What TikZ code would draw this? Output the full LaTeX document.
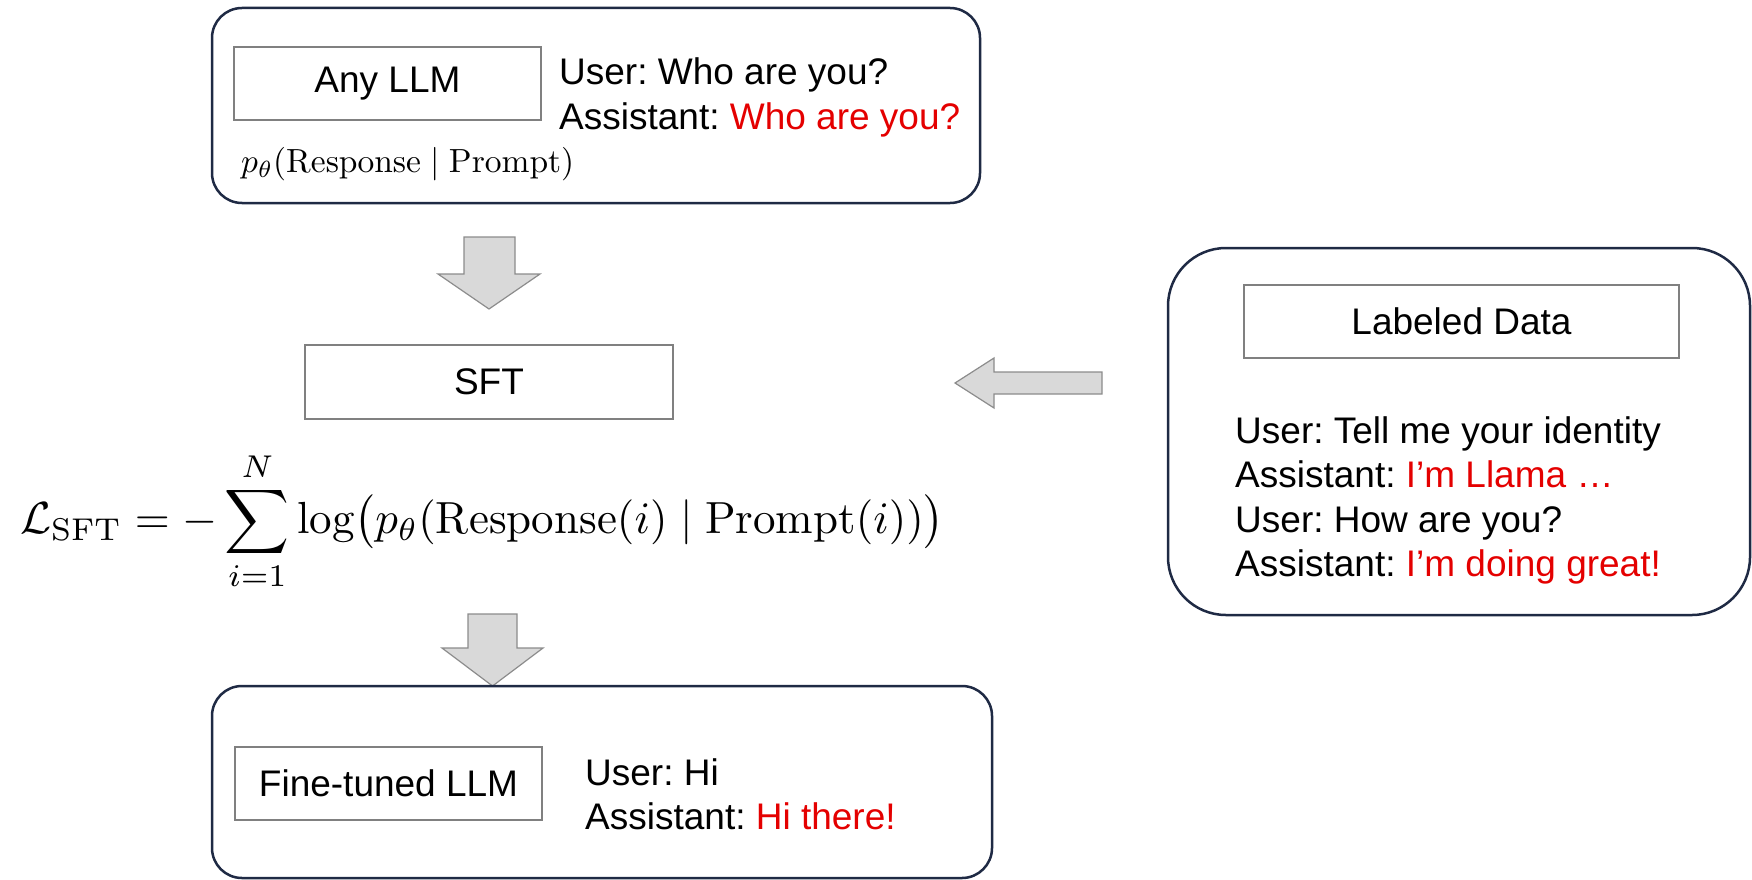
\documentclass[tikz,border=0pt]{standalone}
\usepackage{amsmath}
\usepackage{graphicx}
\usepackage{fontspec}
\newfontfamily\arialfont{Liberation Sans}
\frenchspacing

\definecolor{navy}{RGB}{31,42,68}
\definecolor{boxgray}{RGB}{128,128,128}
\definecolor{arrowfill}{RGB}{217,217,217}
\definecolor{arrowedge}{RGB}{140,140,140}
\definecolor{replyred}{RGB}{228,0,0}

\tikzset{
  panel/.style={draw=navy, line width=2.5pt, rounded corners=30pt},
  modelbox/.style={draw=boxgray, line width=1.3pt, inner sep=0pt,
    font=\arialfont\fontsize{37}{44}\selectfont},
  chat/.style={anchor=base west, inner sep=0pt,
    font=\arialfont\fontsize{37}{44}\selectfont},
  blockarrow/.style={fill=arrowfill, draw=arrowedge, line width=1.2pt, line join=miter},
}

\begin{document}
\begin{tikzpicture}[x=1pt,y=-1pt]
  \useasboundingbox (0,0) rectangle (1752,880);
  \clip (0,0) rectangle (1752,880);

  % base model panel
  \draw[panel] (212,8) rectangle (980,203);
  \node[modelbox, minimum width=307pt, minimum height=73pt] (anyllm) at (387.5,83.5) {Any LLM};
  \node[chat] (q1) at (559,85) {User: Who are you?};
  \node[chat] (a1) at (559,129) {Assistant: \textcolor{replyred}{Who are you?}};
  \node[anchor=west, inner sep=0pt] (ptheta) at (241,164)
    {\scalebox{3.35}{$p_\theta(\mathrm{Response}\mid\mathrm{Prompt})$}};

  % downward block arrow into SFT
  \draw[blockarrow] (464,237) -- (515,237) -- (515,274) -- (540,274) -- (489,309)
    -- (438,274) -- (464,274) -- cycle;

  % SFT step
  \node[modelbox, minimum width=368pt, minimum height=74pt] (sft) at (489,382) {SFT};

  % loss
  \node[anchor=west, inner sep=0pt] (loss) at (20,521)
    {\scalebox{4.5}{$\displaystyle \mathcal{L}_{\mathrm{SFT}} = -\sum_{i=1}^{N}
      \log\bigl(p_\theta(\mathrm{Response}(i)\mid\mathrm{Prompt}(i))\bigr)$}};

  % downward block arrow into the fine-tuned model
  \draw[blockarrow] (468,614) -- (517,614) -- (517,648) -- (543,648) -- (492.5,686)
    -- (442,648) -- (468,648) -- cycle;

  % fine-tuned model panel
  \draw[panel] (212,686) rectangle (992,878);
  \node[modelbox, minimum width=307pt, minimum height=73pt] (ftllm) at (388.5,783.5) {Fine-tuned LLM};
  \node[chat] (q2) at (585,785) {User: Hi};
  \node[chat] (a2) at (585,829) {Assistant: \textcolor{replyred}{Hi there!}};

  % labeled data panel
  \draw[panel, rounded corners=58pt] (1168,248) rectangle (1750,615);
  \node[modelbox, minimum width=435pt, minimum height=73pt] (data) at (1461.5,321.5) {Labeled Data};
  \node[chat] (d1) at (1235,443) {User: Tell me your identity};
  \node[chat] (d2) at (1235,487) {Assistant: \textcolor{replyred}{I’m Llama …}};
  \node[chat] (d3) at (1235,532) {User: How are you?};
  \node[chat] (d4) at (1235,576) {Assistant: \textcolor{replyred}{I’m doing great!}};

  % leftward block arrow from the data into SFT
  \draw[blockarrow] (1102,372) -- (1102,394) -- (994,394) -- (994,408) -- (955,383)
    -- (994,358) -- (994,372) -- cycle;
\end{tikzpicture}
\end{document}
